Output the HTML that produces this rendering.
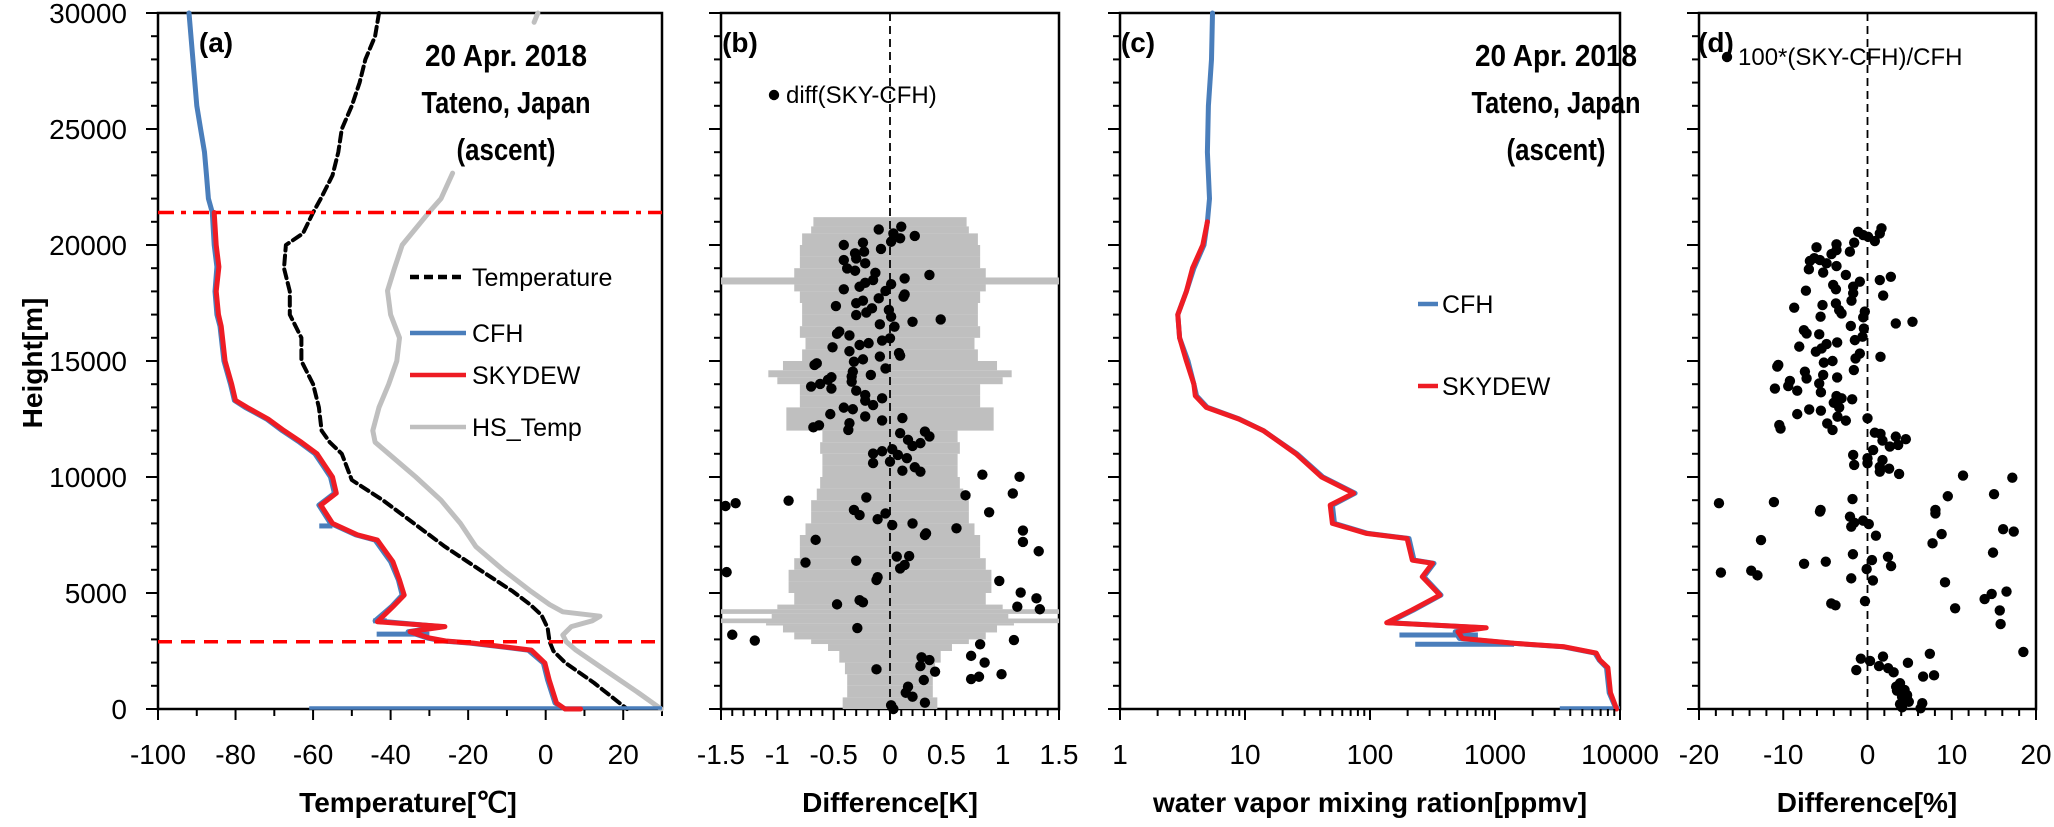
<!DOCTYPE html>
<html><head><meta charset="utf-8"><style>
html,body{margin:0;padding:0;background:#fff;}
svg{display:block;font-family:"Liberation Sans",Arial,sans-serif;}
</style></head><body>
<svg id="chart" width="2054" height="827" viewBox="0 0 2054 827" xmlns="http://www.w3.org/2000/svg"></svg>
<script>
// ---------- Panel (a) data: temperature [°C] vs height [m] ----------
const tempH = [30000,29000,28000,27000,26000,25000,24000,23000,22000,21400,20500,20000,19000,18000,17000,16000,15000,14000,13000,12000,11500,11000,9870,9000,8000,7000,6000,5060,4500,4050,3500,2900,2500,2000,1120,0];
const tempT = [-43,-44,-46.5,-48,-50,-52.6,-53.5,-55,-58,-60,-62.6,-67,-67.5,-66,-66,-63,-63,-60,-58.5,-57.8,-55.7,-52.6,-50,-42,-34,-26,-17,-8.4,-4,-1.1,0.5,1,2,5,12.5,21];
const hsTopH = [30000,29800,29600];
const hsTopT = [-2,-2.5,-3];
const hsH = [23100,22000,21430,20000,19000,18030,17000,16000,15000,14000,13000,12000,11500,11000,10000,9000,8000,7000,6000,5060,4500,4190,4000,3800,3550,3190,2900,2540,1680,690,0];
const hsT = [-24,-27,-30,-37,-39,-40.8,-40,-37.7,-38.4,-40.5,-43,-44.6,-44,-40.5,-33.5,-27,-22,-18,-11,-3.7,1,4.4,14,12,6.6,4.4,5.3,7.8,15.3,24,29.8];
const cfhAH = [30000,28000,26000,25000,24000,23000,22000,21400,20000,19060,18000,17000,16500,15000,14000,13300,13000,12500,12000,11500,11000,10500,10000,9300,8790,8000,7510,7280,6350,5560,4910,4410,3800,3550,3330,3060,2930,2840,2540,1980,1250,260,0];
const cfhAT = [-92,-91,-90,-89,-88,-87.5,-87,-86,-85.5,-84.8,-85.3,-84.8,-84,-83,-81.3,-80.3,-77.5,-72,-68,-63.5,-59.5,-57.5,-55.5,-54.5,-58.5,-55.5,-49,-44,-40,-38,-37,-39.8,-44,-27,-35.5,-30.5,-26.5,-19.5,-4.5,-0.6,0.5,2.4,5];
const cfhASpikeH = [7890,3800,3230];
const cfhASpikeLo = [-58.4,-44.5,-43.6];
const cfhASpikeHi = [-55,-41,-30];
const cfhASurfLo = -61, cfhASurfHi = 30;
const skyAH = [21400,20000,19060,18000,17000,16500,15000,14000,13300,13000,12500,12000,11500,11000,10500,10000,9300,8790,8000,7510,7280,6350,5560,4910,4410,3760,3550,3330,3060,2930,2840,2540,1980,1250,260,0,0];
const skyAT = [-85.5,-85,-84.3,-85,-84.4,-83.7,-82.7,-81,-80,-77,-71.6,-67.5,-63,-59,-57,-55,-54,-58,-55,-48.6,-43.4,-39.4,-37.7,-36.5,-39.4,-43.4,-26,-35,-30,-25.8,-18.7,-3.7,-0.2,0.9,2.8,5,9];
const tropopauseH = 21400, pblH = 2900;

// ---------- Panel (b) data: uncertainty band + differences [K] ----------
const bandLo = [0,500,1000,1500,2000,2500,2800,3000,3300,3600,3700,3900,4100,4300,4500,5000,5500,6000,6500,7000,7500,8000,8500,9000,9500,10000,10500,11000,11500,12000,12500,13000,13500,14000,14300,14600,15000,15500,16000,16500,17000,17500,18000,18300,18600,19000,19500,20000,20500,20800];
const bandU = [0.42,0.38,0.38,0.4,0.45,0.55,0.7,0.85,0.95,1.1,1.5,1.05,1.5,1.0,0.85,0.9,0.9,0.85,0.8,0.8,0.75,0.7,0.7,0.65,0.62,0.6,0.6,0.62,0.6,0.92,0.92,0.8,0.8,1.0,1.08,0.95,0.78,0.75,0.8,0.78,0.78,0.8,0.85,1.5,0.85,0.8,0.8,0.78,0.7,0.68];
const bandTop = 21200;
const diffPointsB = [[-0.10,20670],[0.03,20500],[0.10,20790],[0.09,20290],[0.01,20140],[0.22,20390],[-0.41,20000],[-0.24,20100],[-0.08,19830],[-0.31,19640],[-0.23,19710],[-0.30,19420],[-0.41,19350],[-0.22,19210],[-0.38,18990],[-0.31,18890],[-0.13,18800],[-0.15,18490],[-0.22,18370],[-0.27,18200],[0.13,18560],[0.35,18710],[0.01,18310],[-0.41,18090],[-0.04,18020],[0.13,17870],[0.12,17770],[-0.10,17700],[-0.24,17600],[-0.30,17490],[-0.48,17370],[-0.16,17270],[-0.21,17090],[-0.01,17200],[0.01,16910],[-0.30,16980],[0.20,16690],[0.45,16790],[-0.09,16580],[0.04,16480],[-0.45,16270],[-0.47,16170],[-0.36,16100],[-0.07,15880],[0,15980],[-0.19,15770],[-0.27,15690],[-0.51,15590],[-0.36,15420],[0.09,15230],[0.08,15340],[-0.09,15190],[-0.24,15070],[-0.32,14970],[-0.67,14830],[-0.65,14900],[-0.04,14680],[-0.33,14540],[-0.34,14330],[-0.17,14400],[-0.52,14300],[-0.55,14190],[-0.70,13900],[-0.62,14010],[-0.52,13810],[-0.34,14110],[-0.30,13720],[-0.22,13530],[-0.22,13290],[-0.15,13100],[-0.07,13390],[-0.41,12990],[-0.33,12920],[-0.53,12710],[-0.22,12610],[-0.07,12440],[0.11,12540],[-0.36,12320],[-0.37,12030],[-0.68,12140],[-0.63,12230],[0.09,11890],[0.16,11600],[0.20,11340],[0.27,11460],[0.31,11960],[0.35,11750],[0.02,11200],[0.07,10950],[0.15,10810],[-0.15,11010],[-0.07,11110],[-0.15,10600],[0,10660],[0.22,10420],[0.27,10230],[0.11,10270],[0.82,10100],[1.15,10010],[0.67,9210],[1.09,9290],[-0.21,9120],[-0.90,8980],[-1.37,8870],[-1.46,8750],[-0.32,8580],[-0.27,8360],[-0.11,8180],[-0.04,8430],[0.02,7930],[0.20,8000],[0.32,7570],[0.31,7500],[0.59,7790],[0.88,8480],[1.18,7690],[1.18,7200],[1.32,6800],[-0.66,7290],[-0.75,6310],[-0.30,6390],[0.06,6570],[0.17,6590],[0.13,6210],[0.09,6060],[-0.11,5680],[-0.12,5560],[0.97,5520],[1.16,5020],[1.30,4770],[1.33,4300],[1.13,4410],[-0.47,4510],[-0.27,4690],[-0.24,4600],[-0.29,3490],[1.10,2970],[0.80,2790],[0.72,2290],[0.84,2000],[0.28,2230],[0.35,2110],[0.27,1850],[0.40,1610],[0.30,1250],[0.16,960],[0.14,700],[0.20,530],[0.31,270],[0.99,1500],[0.72,1290],[0.79,1390],[-0.12,1710],[0.01,160],[0.03,0],[-1.45,5900],[-1.40,3200],[-1.2,2950]];

// ---------- Panel (c) data: water vapour mixing ratio [ppmv] ----------
const cfhCH = [30000,28000,26000,24000,22000,21000,20000,19000,18000,17000,16000,15000,14000,13500,13000,12500,12000,11000,10000,9300,8790,8000,7570,7350,6420,6280,5700,4910,4260,3720,3500,3330,3040,2830,2680,2410,2110,1780,700,0];
const cfhCV = [5.5,5.4,5.1,5.0,5.2,5.0,4.7,3.9,3.4,2.9,3.0,3.5,3.9,4.1,5.0,9,14,26,42,76,50,52,96,205,225,325,270,370,222,140,800,480,520,1380,3500,6300,6800,7800,8200,9300];
const cfhCSpikeH = [3190,2790];
const cfhCSpikeLo = [172,230];
const cfhCSpikeHi = [730,1420];
const cfhCSurfLo = 3300, cfhCSurfHi = 10000;
const skyCH = [21000,20000,19000,18000,17000,16000,15000,14000,13500,13000,12500,12000,11000,10000,9300,8790,8000,7570,7350,6420,6280,5700,4910,4260,3720,3500,3330,3040,2830,2680,2410,2110,1780,700,0];
const skyCV = [5,4.6,3.8,3.4,2.9,3.0,3.4,3.9,4.0,4.9,8.9,14,25.6,41,74,48,50,93,198,218,316,262,363,215,136,850,505,550,1420,3600,6460,6900,8000,8400,9400];

// ---------- Panel (d) data: relative difference [%] ----------
const pctPointsD = [[1.66,20720],[1.46,20500],[0.87,20170],[0.08,20350],[-0.51,20430],[-1.11,20570],[-1.58,20100],[-2.09,19710],[-3.68,20030],[-3.68,19780],[-4.27,19610],[-6.05,19900],[-6.84,19310],[-6.32,19430],[-5.65,19350],[-4.86,19210],[-3.68,19090],[-6.96,18950],[-5.26,18810],[-2.57,18710],[-0.91,18420],[-1.70,18200],[1.46,18490],[2.77,18630],[-4.07,18280],[-3.75,18090],[1.86,17820],[-7.31,18030],[-1.70,17920],[-1.90,17600],[-8.70,17300],[-5.34,17410],[-3.75,17480],[-3.36,17190],[-3.08,17050],[-5.57,16910],[-0.32,17130],[-0.51,16880],[-1.98,16510],[3.36,16620],[5.34,16690],[-7.55,16330],[-7.23,16190],[-5.73,16150],[-3.60,15800],[-4.86,15730],[-5.45,15540],[-6.13,15400],[-8.10,15620],[-0.43,16400],[-0.59,16050],[-1.50,15900],[-0.91,15320],[-1.42,15110],[1.54,15180],[-5.18,14930],[-4.15,15000],[-10.71,14760],[-10.59,14830],[-7.43,14540],[-7.23,14250],[-5.26,14400],[-3.60,14290],[-1.62,14610],[-9.21,14140],[-9.41,13920],[-8.34,13720],[-10.99,13810],[-5.73,14030],[-5.53,13650],[-3.68,13490],[-3.08,13390],[-4.0,13200],[-3.36,13000],[-1.82,13350],[-6.92,12910],[-8.34,12710],[-5.53,12860],[-3.56,12600],[-2.57,12430],[-4.78,12310],[-4.15,12030],[-10.47,12240],[-10.32,12090],[0,12530],[0.87,11910],[1.54,11860],[1.78,11570],[2.65,11310],[3.36,11740],[4.55,11630],[3.64,11380],[0.67,11160],[-1.70,10950],[-1.58,10520],[0,10810],[0,10590],[1.78,10730],[1.46,10440],[1.46,10230],[2.57,10360],[3.75,10130],[11.34,10060],[17.19,9970],[9.53,9170],[15.02,9260],[-1.78,9050],[-11.11,8920],[-17.63,8870],[-5.57,8580],[8.06,8580],[-5.64,8510],[-2.08,8290],[-1.58,8030],[-0.53,8120],[0.15,7970],[-1.93,7860],[1.0,7470],[8.06,8430],[8.80,7540],[7.72,7140],[16.1,7750],[17.36,7650],[14.9,6740],[-12.64,7280],[-17.4,5880],[-13.8,5960],[-13.06,5760],[-7.53,6260],[-4.95,6350],[-1.73,6670],[0.53,6420],[2.43,6560],[2.8,6160],[-0.1,6030],[0.64,5540],[-1.93,5630],[9.2,5460],[13.9,4740],[14.74,4960],[16.5,5060],[10.4,4340],[15.7,4250],[15.8,3660],[-4.3,4550],[-3.8,4470],[-0.3,4650],[18.5,2460],[7.4,2380],[7.9,1450],[-0.79,2170],[0.30,2070],[1.84,2260],[-1.33,1680],[1.37,1850],[2.45,1760],[3.1,1580],[4.8,1990],[3.86,1110],[3.5,790],[4.1,530],[4.7,600],[4.9,310],[3.86,210],[4.1,70],[6.6,1400],[6.5,250],[6.3,30],[3.4,960],[4.4,820],[4.7,420]];

// ---------- tick labels ----------
const yTickLabels = ["0","5000","10000","15000","20000","25000","30000"];
const xTicksA = [-100,-80,-60,-40,-20,0,20];
const xTicksB = ["-1.5","-1","-0.5","0","0.5","1","1.5"];
const xTicksC = ["1","10","100","1000","10000"];
const xTicksD = [-20,-10,0,10,20];

// ---------- layout ----------
const NS = "http://www.w3.org/2000/svg";
const svg = document.getElementById('chart');
const yTop = 13, yBot = 709, hMax = 30000;
const yS = h => yBot - h / hMax * (yBot - yTop);
const PA = {x0:158, x1:662, lo:-100, hi:30};
const PB = {x0:721, x1:1059, lo:-1.5, hi:1.5};
const PC = {x0:1120, x1:1620, lo:0, hi:4};
const PD = {x0:1699, x1:2036, lo:-20, hi:20};
const lin = P => v => P.x0 + (v - P.lo) / (P.hi - P.lo) * (P.x1 - P.x0);
const xA = lin(PA), xB = lin(PB), xD = lin(PD);
const xC = v => PC.x0 + (Math.log10(v) - PC.lo) / (PC.hi - PC.lo) * (PC.x1 - PC.x0);

function mk(tag, attrs, parent) {
  const e = document.createElementNS(NS, tag);
  for (const k in attrs) e.setAttribute(k, attrs[k]);
  (parent || svg).appendChild(e);
  return e;
}
function group(name) {
  const g = mk('g', {});
  
  
  return g;
}
function txt(parent, x, y, s, size, anchor, bold, name) {
  const t = mk('text', {x:x, y:y, 'font-size':size, 'text-anchor':anchor || 'start', 'font-weight': bold ? 'bold' : 'normal', fill:'#000'}, parent);
  t.textContent = s;
  
  
  return t;
}
function titleTxt(parent, x, y, s, len, name) {
  const t = txt(parent, x, y, s, 31, 'middle', true, name);
  t.setAttribute('textLength', len);
  t.setAttribute('lengthAdjust', 'spacingAndGlyphs');
  return t;
}
function poly(parent, xs, ys, color, w, dash, name) {
  const pts = xs.map((x, i) => x.toFixed(1) + ',' + ys[i].toFixed(1)).join(' ');
  const p = mk('polyline', {points:pts, fill:'none', stroke:color, 'stroke-width':w, 'stroke-linejoin':'round', 'stroke-linecap':'round'}, parent);
  if (dash) p.setAttribute('stroke-dasharray', dash);
  
  
  return p;
}
function seg(parent, x1, y1, x2, y2, color, w, dash, name) {
  const l = mk('line', {x1:x1, y1:y1, x2:x2, y2:y2, stroke:color, 'stroke-width':w}, parent);
  if (dash) l.setAttribute('stroke-dasharray', dash);
  
  
  return l;
}
function dot(parent, cx, cy, name) {
  const c = mk('circle', {cx:cx, cy:cy, r:5.2, fill:'#000'}, parent);
  
  
  return c;
}
function frame(P, name) {
  const g = group(name);
  const r = mk('rect', {x:P.x0, y:yTop, width:P.x1 - P.x0, height:yBot - yTop, fill:'none', stroke:'#000', 'stroke-width':2.5}, g);
  
  
  for (let h = 0; h <= hMax; h += 1000) {
    const major = h % 5000 === 0;
    seg(g, P.x0 - (major ? 12 : 7), yS(h), P.x0, yS(h), '#000', 2, null, 'y-tick');
  }
  return g;
}
function xtick(g, x, major) {
  seg(g, x, yBot, x, yBot + (major ? 11 : 7), '#000', 2, null, 'x-tick');
}

// ---------- Panel (a) ----------
const gA = frame(PA, 'panel-a');
const yAxisLbl = group('y-axis-tick-labels');
yTickLabels.forEach((s, i) => txt(yAxisLbl, 127, yS(i * 5000) + 10, s, 28, 'end', false, 'y-tick-label'));
const hl = txt(svg, 0, 0, 'Height[m]', 28, 'middle', true, 'y-axis-title');
hl.setAttribute('transform', 'translate(42,363) rotate(-90)');
for (let v = -100; v <= 30; v += 10) xtick(gA, xA(v), v % 20 === 0);
xTicksA.forEach(v => txt(gA, xA(v), 764, String(v), 28, 'middle', false, 'x-tick-label'));
txt(gA, 408, 812, 'Temperature[\u2103]', 28, 'middle', true, 'x-axis-title');

poly(gA, hsTopT.map(xA), hsTopH.map(yS), '#bfbfbf', 5, null, 'hs-temp-line-top');
poly(gA, hsT.map(xA), hsH.map(yS), '#bfbfbf', 5, null, 'hs-temp-line');
poly(gA, tempT.map(xA), tempH.map(yS), '#000', 4, '9 5', 'temperature-line');
poly(gA, cfhAT.map(xA), cfhAH.map(yS), '#4a7ebb', 5, null, 'cfh-frostpoint-line');
cfhASpikeH.forEach((h, i) => seg(gA, xA(cfhASpikeLo[i]), yS(h), xA(cfhASpikeHi[i]), yS(h), '#4a7ebb', 5, null, 'cfh-spike'));
seg(gA, xA(cfhASurfLo), yS(0) - 1, xA(cfhASurfHi), yS(0) - 1, '#4a7ebb', 3.5, null, 'cfh-surface-line');
poly(gA, skyAT.map(xA), skyAH.map(yS), '#ee1c24', 5, null, 'skydew-frostpoint-line');
seg(gA, PA.x0, yS(tropopauseH), PA.x1, yS(tropopauseH), '#ff0000', 3.5, '16 7 5 7', 'tropopause-line');
seg(gA, PA.x0, yS(pblH), PA.x1, yS(pblH), '#ff0000', 3.5, '14 9', 'boundary-layer-line');

txt(gA, 216, 52, '(a)', 28, 'middle', true, 'panel-a-label');
titleTxt(gA, 506, 66, '20 Apr. 2018', 162, 'panel-a-date');
titleTxt(gA, 506, 113, 'Tateno, Japan', 169, 'panel-a-site');
titleTxt(gA, 506, 160, '(ascent)', 99, 'panel-a-mode');
const legA = group('legend-a');
const legItems = [['Temperature', '#000', '9 5', 277], ['CFH', '#4a7ebb', null, 333], ['SKYDEW', '#ee1c24', null, 375], ['HS_Temp', '#bfbfbf', null, 427]];
legItems.forEach(it => {
  seg(legA, 410, it[3], 466, it[3], it[1], 4.5, it[2], 'legend-swatch');
  txt(legA, 472, it[3] + 9, it[0], 25, 'start', false, 'legend-entry');
});

// ---------- Panel (b) ----------
const gB = frame(PB, 'panel-b');
bandLo.forEach((lo, i) => {
  const hi = i < bandLo.length - 1 ? bandLo[i + 1] : bandTop;
  const r = mk('rect', {x:xB(-bandU[i]), y:yS(hi), width:xB(bandU[i]) - xB(-bandU[i]), height:yS(lo) - yS(hi), fill:'#bfbfbf'}, gB);
  
  
});
seg(gB, xB(0), yTop, xB(0), yBot, '#000', 1.8, '8 5', 'zero-line');
diffPointsB.forEach(p => dot(gB, xB(p[0]), yS(p[1]), 'diff-point'));
for (let k = -15; k <= 15; k++) xtick(gB, xB(k / 10), k % 5 === 0);
xTicksB.forEach(s => txt(gB, xB(parseFloat(s)), 764, s, 28, 'middle', false, 'x-tick-label'));
txt(gB, 890, 812, 'Difference[K]', 28, 'middle', true, 'x-axis-title');
txt(gB, 740, 52, '(b)', 28, 'middle', true, 'panel-b-label');
dot(gB, 774, 95, 'legend-marker');
txt(gB, 786, 103, 'diff(SKY-CFH)', 24, 'start', false, 'legend-entry');

// ---------- Panel (c) ----------
const gC = frame(PC, 'panel-c');
poly(gC, cfhCV.map(xC), cfhCH.map(yS), '#4a7ebb', 5, null, 'cfh-mixing-ratio-line');
cfhCSpikeH.forEach((h, i) => seg(gC, xC(cfhCSpikeLo[i]), yS(h), xC(cfhCSpikeHi[i]), yS(h), '#4a7ebb', 5, null, 'cfh-spike'));
seg(gC, xC(cfhCSurfLo), yS(0) - 1, xC(cfhCSurfHi), yS(0) - 1, '#4a7ebb', 3.5, null, 'cfh-surface-line');
poly(gC, skyCV.map(xC), skyCH.map(yS), '#ee1c24', 5, null, 'skydew-mixing-ratio-line');
for (let d = 0; d < 4; d++) for (let m = 1; m <= 9; m++) xtick(gC, xC(m * Math.pow(10, d)), m === 1);
xtick(gC, xC(10000), true);
xTicksC.forEach(s => txt(gC, xC(parseFloat(s)), 764, s, 28, 'middle', false, 'x-tick-label'));
txt(gC, 1370, 812, 'water vapor mixing ration[ppmv]', 28, 'middle', true, 'x-axis-title');
txt(gC, 1138, 52, '(c)', 28, 'middle', true, 'panel-c-label');
titleTxt(gC, 1556, 66, '20 Apr. 2018', 162, 'panel-c-date');
titleTxt(gC, 1556, 113, 'Tateno, Japan', 169, 'panel-c-site');
titleTxt(gC, 1556, 160, '(ascent)', 99, 'panel-c-mode');
const legC = group('legend-c');
seg(legC, 1418, 304, 1438, 304, '#4a7ebb', 4.5, null, 'legend-swatch');
txt(legC, 1442, 313, 'CFH', 25, 'start', false, 'legend-entry');
seg(legC, 1418, 386, 1438, 386, '#ee1c24', 4.5, null, 'legend-swatch');
txt(legC, 1442, 395, 'SKYDEW', 25, 'start', false, 'legend-entry');

// ---------- Panel (d) ----------
const gD = frame(PD, 'panel-d');
seg(gD, xD(0), yTop, xD(0), yBot, '#000', 1.8, '8 5', 'zero-line');
pctPointsD.forEach(p => dot(gD, xD(p[0]), yS(p[1]), 'pct-diff-point'));
for (let v = -20; v <= 20; v += 2) xtick(gD, xD(v), v % 10 === 0);
xTicksD.forEach(v => txt(gD, xD(v), 764, String(v), 28, 'middle', false, 'x-tick-label'));
txt(gD, 1867, 812, 'Difference[%]', 28, 'middle', true, 'x-axis-title');
txt(gD, 1716, 52, '(d)', 28, 'middle', true, 'panel-d-label');
dot(gD, 1727, 57, 'legend-marker');
txt(gD, 1738, 65, '100*(SKY-CFH)/CFH', 24, 'start', false, 'legend-entry');
</script>
</body></html>
